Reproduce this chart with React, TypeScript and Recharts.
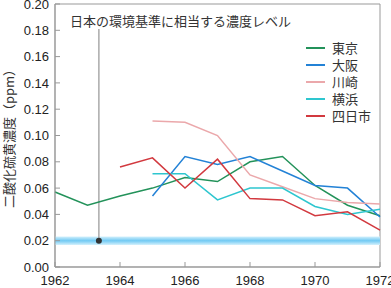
import { LineChart, Line, XAxis, YAxis, ReferenceArea, ReferenceLine, ReferenceDot } from 'recharts';

const YEARS = [1962, 1963, 1964, 1965, 1966, 1967, 1968, 1969, 1970, 1971, 1972];
const TOKYO = [0.057, 0.047, 0.054, 0.06, 0.068, 0.065, 0.08, 0.084, 0.062, 0.047, 0.039];
const OSAKA = [null, null, null, 0.054, 0.084, 0.078, 0.084, 0.073, 0.062, 0.06, 0.038];
const KAWASAKI = [null, null, null, 0.111, 0.11, 0.1, 0.07, 0.061, 0.052, 0.049, 0.048];
const YOKOHAMA = [null, null, null, 0.071, 0.071, 0.051, 0.06, 0.06, 0.046, 0.04, 0.044];
const YOKKAICHI = [null, null, 0.076, 0.083, 0.06, 0.082, 0.052, 0.051, 0.039, 0.042, 0.028];
const Y_TICKS = [0, 0.02, 0.04, 0.06, 0.08, 0.1, 0.12, 0.14, 0.16, 0.18, 0.2];
const X_TICKS = [1962, 1964, 1966, 1968, 1970, 1972];
const STANDARD = 0.02;
const STANDARD_YEAR = 1963.35;

const SERIES = [
  { key: 'tokyo', name: '東京', color: '#23925a', values: TOKYO },
  { key: 'osaka', name: '大阪', color: '#2382d6', values: OSAKA },
  { key: 'kawasaki', name: '川崎', color: '#eba8ab', values: KAWASAKI },
  { key: 'yokohama', name: '横浜', color: '#2ec6cf', values: YOKOHAMA },
  { key: 'yokkaichi', name: '四日市', color: '#d2393f', values: YOKKAICHI },
];

const data = YEARS.map((year, i) => {
  const row: Record<string, number | null> = { year };
  SERIES.forEach((s) => { row[s.key] = s.values[i]; });
  return row;
});

const FONT = '"Liberation Sans", "Noto Sans CJK JP", sans-serif';
const JP_FONT = '"Noto Sans CJK JP", sans-serif';

export default function App() {
  return (
    <div style={{ position: 'absolute', left: 0, top: 0, width: 391, height: 288, background: '#fff' }}>
      <LineChart width={391} height={288} data={data} margin={{ top: 4, right: 11, bottom: 0, left: 0 }}>
        <defs>
          <linearGradient id="band" x1="0" y1="0" x2="0" y2="1">
            <stop offset="0%" stopColor="#d3f0fc" />
            <stop offset="35%" stopColor="#8ed5f6" />
            <stop offset="50%" stopColor="#72caf3" />
            <stop offset="65%" stopColor="#8ed5f6" />
            <stop offset="100%" stopColor="#d3f0fc" />
          </linearGradient>
        </defs>
        <XAxis
          dataKey="year" type="number" domain={[1962, 1972]} ticks={X_TICKS} height={21} interval={0}
          stroke="#999" tickSize={-5} tickMargin={14}
          tick={{ fill: '#222', fontSize: 13, fontFamily: FONT }}
        />
        <YAxis
          type="number" domain={[0, 0.2]} ticks={Y_TICKS} width={55} interval={0}
          stroke="#999" tickSize={-5} tickMargin={11}
          tickFormatter={(v: number) => v.toFixed(2)}
          tick={{ fill: '#222', fontSize: 13, fontFamily: FONT }}
          label={{ value: '二酸化硫黄濃度（ppm）', angle: -90, position: 'insideLeft', offset: 9, style: { fill: '#333', fontSize: 13, fontFamily: JP_FONT, textAnchor: 'middle' } }}
        />
        <ReferenceArea x1={1962} x2={1972} y1={0} y2={0.2} fill="none" stroke="#999" strokeWidth={1} ifOverflow="visible" />
        <ReferenceArea x1={1962} x2={1972} y1={0.0168} y2={0.0232} fill="url(#band)" stroke="none" fillOpacity={1} />
        <ReferenceLine segment={[{ x: STANDARD_YEAR, y: STANDARD }, { x: STANDARD_YEAR, y: 0.181 }]} stroke="#aaa" strokeWidth={1.5} />
        <ReferenceDot x={STANDARD_YEAR} y={STANDARD} r={3} fill="#333" stroke="none" />
        {SERIES.map((s) => (
          <Line key={s.key} dataKey={s.key} name={s.name} stroke={s.color} strokeWidth={1.5} dot={false} isAnimationActive={false} />
        ))}
      </LineChart>
      <div style={{ position: 'absolute', left: 70, top: 11, fontFamily: JP_FONT, fontSize: 13, color: '#333', whiteSpace: 'nowrap' }}>
        日本の環境基準に相当する濃度レベル
      </div>
      <div style={{ position: 'absolute', left: 306, top: 39, fontFamily: JP_FONT, fontSize: 13, color: '#333' }}>
        {SERIES.map((s) => (
          <div key={s.key} style={{ display: 'flex', alignItems: 'center', height: 17 }}>
            <div style={{ width: 19, height: 2, background: s.color, marginRight: 7 }} />
            <span style={{ lineHeight: '17px', whiteSpace: 'nowrap' }}>{s.name}</span>
          </div>
        ))}
      </div>
    </div>
  );
}
